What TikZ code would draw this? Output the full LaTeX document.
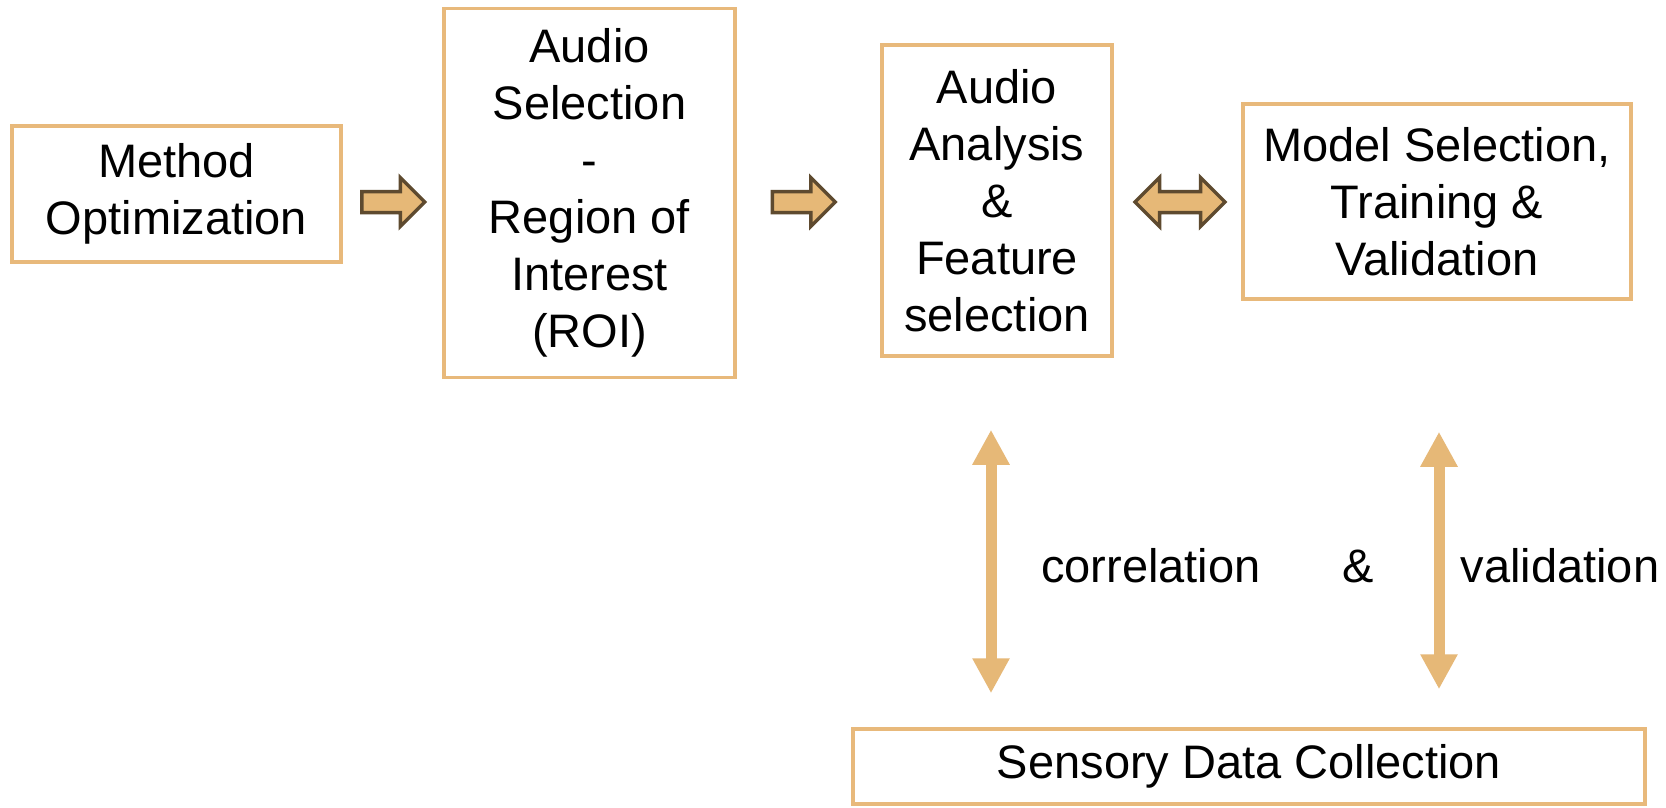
\documentclass[tikz,border=0pt]{standalone}
\usepackage{fontspec}
\setmainfont{Liberation Sans}
\usetikzlibrary{shapes.arrows,arrows.meta}
\definecolor{boxtan}{HTML}{E8B97B}
\definecolor{arrowtan}{HTML}{E6B877}
\definecolor{arrowbrown}{HTML}{5E4A2F}
\tikzset{
  box/.style={draw=boxtan, line width=3.5pt, align=center, inner sep=0pt, font=\fontsize{47}{57}\selectfont},
  blockarrow/.style={single arrow, draw=arrowbrown, fill=arrowtan, line width=3.5pt, inner xsep=0pt, inner ysep=8.75pt, single arrow head extend=14pt, minimum height=63pt},
  twoway/.style={double arrow, draw=arrowbrown, fill=arrowtan, line width=3.5pt, inner xsep=0pt, inner ysep=8.75pt, double arrow head extend=14pt, minimum height=90pt},
  vlink/.style={draw=arrowtan, line width=11pt, {Triangle[width=35pt,length=35pt]}-{Triangle[width=35pt,length=35pt]}},
  note/.style={font=\fontsize{47}{57}\selectfont, inner sep=0pt}
}
\begin{document}
\begin{tikzpicture}[x=1pt,y=-1pt]
\fill[white] (0,0) rectangle (1666,808);
\useasboundingbox (0,0) rectangle (1666,808);
% boxes
\node[box, minimum width=329pt, minimum height=136pt] (mo) at (176.5,194) {Method\\Optimization};
\node[box, minimum width=291pt, minimum height=369pt] (as) at (589.5,193) {Audio\\Selection\\-\\Region of\\Interest\\(ROI)};
\node[box, minimum width=230pt, minimum height=311pt] (aa) at (997,200.5) {Audio\\Analysis\\\&\\Feature\\selection};
\node[box, minimum width=388pt, minimum height=195pt] (ms) at (1437,201.5) {Model Selection,\\Training \&\\Validation};
\node[box, minimum width=792pt, minimum height=75pt] (sdc) at (1249,766.5) {Sensory Data Collection};
% block arrows
\node[blockarrow] (a1) at (388,202) {};
\node[blockarrow] (a2) at (798.5,202) {};
\node[twoway] (a3) at (1180,202) {};
% links to the data
\draw[vlink, shorten <=72pt, shorten >=34pt] ([xshift=-6pt]aa.south) -- ([xshift=-6pt]aa.south |- sdc.north);
\draw[vlink, shorten <=131pt, shorten >=38pt] ([xshift=2pt]ms.south) -- ([xshift=2pt]ms.south |- sdc.north);
\node[note] (corr) at (1151,566) {correlation};
\node[note] (amp) at (1358,566) {\&};
\node[note] (valid) at (1560,566) {validation};
\end{tikzpicture}
\end{document}
